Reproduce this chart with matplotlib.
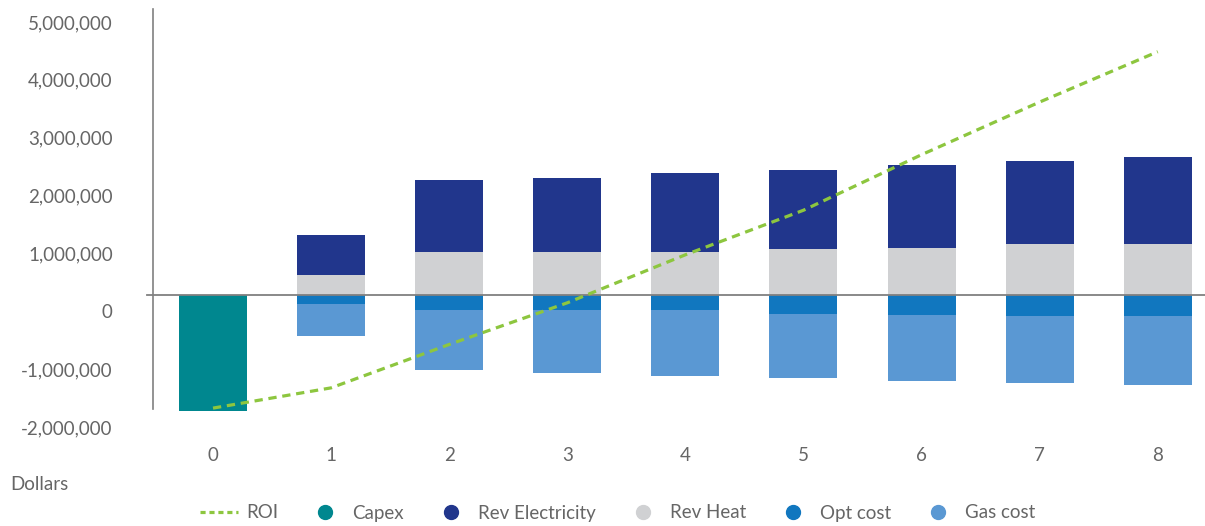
import matplotlib.pyplot as plt
import matplotlib.transforms as mtransforms
from matplotlib.lines import Line2D
import numpy as np

plt.rcParams['font.family'] = ['Lato', 'DejaVu Sans']

years = [0, 1, 2, 3, 4, 5, 6, 7, 8]
capex = [-2000000, 0, 0, 0, 0, 0, 0, 0, 0]
rev_heat = [0, 350000, 750000, 750000, 750000, 800000, 820000, 890000, 890000]
rev_elec = [0, 690000, 1240000, 1280000, 1360000, 1370000, 1430000, 1430000, 1500000]
opt_cost = [0, -150000, -250000, -250000, -250000, -320000, -340000, -360000, -360000]
gas_cost = [0, -550000, -1040000, -1090000, -1140000, -1110000, -1140000, -1160000, -1190000]
roi = [-1950000, -1600000, -850000, -130000, 700000, 1470000, 2430000, 3340000, 4210000]
y_ticks = [-2000000, -1000000, 0, 1000000, 2000000, 3000000, 4000000, 5000000]

c_roi = "#8DC63F"
c_capex = "#00878F"
c_elec = "#21368C"
c_heat = "#D0D1D3"
c_opt = "#1177BF"
c_gas = "#5A98D3"
grey = "#666666"

fig = plt.figure(figsize=(12.05, 5.26), dpi=100)
ax = fig.add_axes([153 / 1205, 115 / 526, 1052 / 1205, 405 / 526])

x = np.array(years)
w = 0.576
ax.bar(x, capex, w, color=c_capex, zorder=2)
ax.bar(x, rev_heat, w, color=c_heat, zorder=2)
ax.bar(x, rev_elec, w, bottom=rev_heat, color=c_elec, zorder=2)
ax.bar(x, opt_cost, w, color=c_opt, zorder=2)
ax.bar(x, gas_cost, w, bottom=opt_cost, color=c_gas, zorder=2)
ax.plot(x, roi, color=c_roi, lw=2.3, dashes=(2.6, 1.8), zorder=4)

ax.axhline(0, xmin=-0.006, xmax=1, color="#808080", lw=1.3, zorder=3, clip_on=False)

ax.set_xlim(-0.508, 8.40)
ax.set_ylim(-2000000, 5000000)
for s in ["top", "right", "bottom"]:
    ax.spines[s].set_visible(False)
ax.spines["left"].set_color("#808080")
ax.spines["left"].set_linewidth(1.2)
ax.spines["left"].set_bounds(-1970000, 4950000)

ax.set_yticks(y_ticks)
ax.set_yticklabels([f"{v:,.0f}" for v in y_ticks])
ax.tick_params(axis="y", length=0, pad=29, labelsize=13.5, labelcolor=grey)
# labels sit a bit below their gridline in the original
offset = mtransforms.ScaledTranslation(0, -16 / 100, fig.dpi_scale_trans)
for lbl in ax.get_yticklabels():
    lbl.set_transform(lbl.get_transform() + offset)

ax.set_xticks(years)
ax.tick_params(axis="x", length=0, pad=26, labelsize=13.5, labelcolor=grey)

fig.text(10 / 1205, 1 - 484 / 526, "Dollars", fontsize=13.5, color=grey, va="center", ha="left")

handles = [
    Line2D([0], [0], color=c_roi, lw=2.3, dashes=(1.6, 1.2)),
    Line2D([0], [0], marker="o", ls="", markersize=10, color=c_capex),
    Line2D([0], [0], marker="o", ls="", markersize=10, color=c_elec),
    Line2D([0], [0], marker="o", ls="", markersize=10, color=c_heat),
    Line2D([0], [0], marker="o", ls="", markersize=10, color=c_opt),
    Line2D([0], [0], marker="o", ls="", markersize=10, color=c_gas),
]
labels = ["ROI", "Capex", "Rev Electricity", "Rev Heat", "Opt cost", "Gas cost"]
leg = fig.legend(handles, labels, loc="center", bbox_to_anchor=(618 / 1205, 1 - 513 / 526),
                 ncol=6, frameon=False, fontsize=13.5, handlelength=2.0, columnspacing=1.5,
                 handletextpad=0.45)
for t in leg.get_texts():
    t.set_color(grey)

fig.savefig("out.png", dpi=100)
